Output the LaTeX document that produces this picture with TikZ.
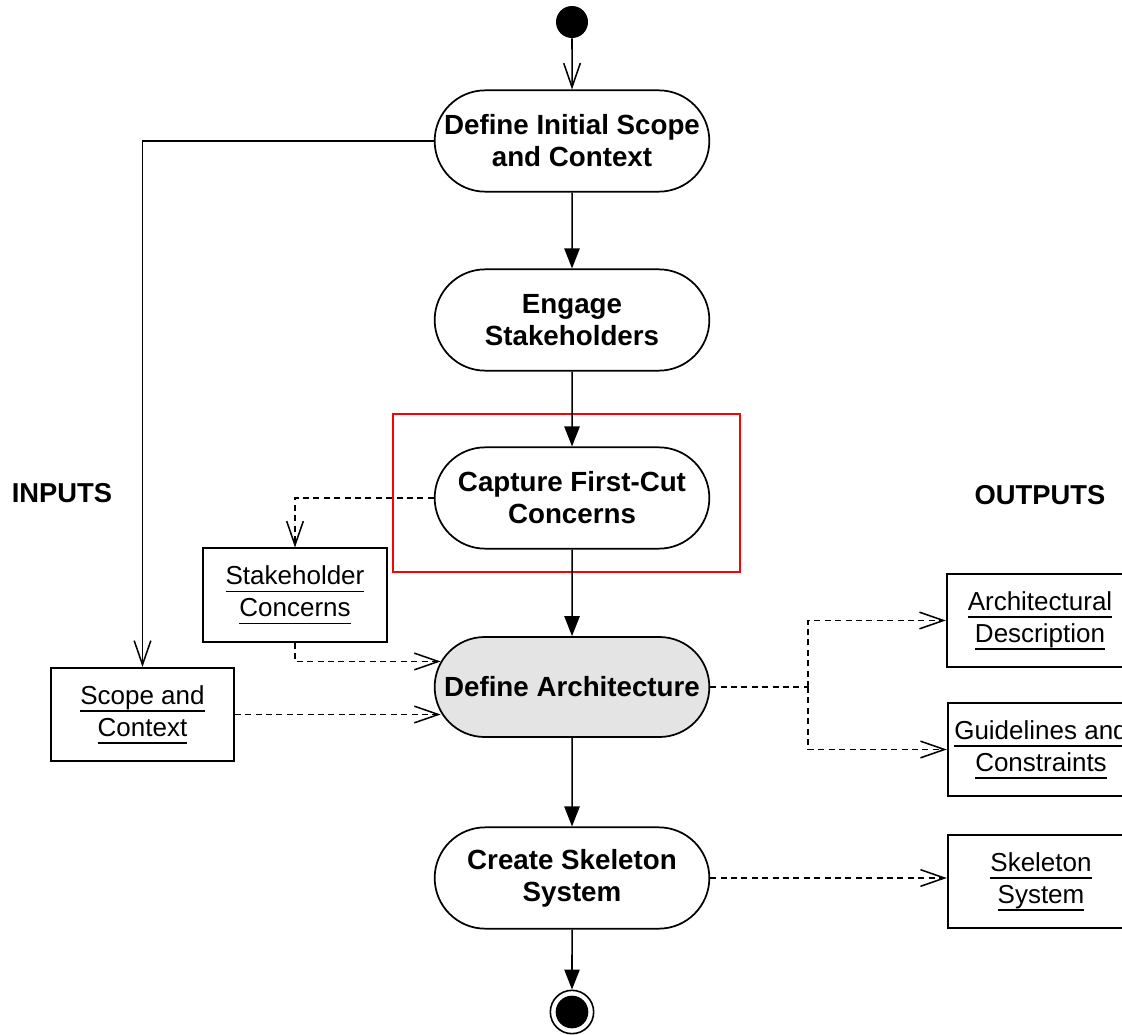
\documentclass[tikz,border=0pt]{standalone}
\usepackage{fontspec}
\setmainfont{Liberation Sans}
\usetikzlibrary{arrows.meta,shapes.misc}
\definecolor{actgrey}{RGB}{228,228,228}
\newcommand\ulx[1]{\sbox0{#1}\rlap{\rule[-5.5pt]{\wd0}{0.9pt}}\usebox0}
\begin{document}
\begin{tikzpicture}[x=0.75pt,y=-0.75pt,
  act/.style={rounded rectangle, draw, line width=1.3pt, minimum width=210pt, minimum height=76pt, align=center, font=\fontsize{20.8}{24}\selectfont\bfseries, inner sep=2pt},
  obj/.style={rectangle, draw, line width=1.3pt, minimum width=138pt, minimum height=70pt, align=center, font=\fontsize{19.5}{24}\selectfont, inner sep=2pt},
  flow/.style={line width=1.15pt, -{Triangle[length=15pt,width=11.5pt]}},
  openarr/.style={line width=1.15pt, -{Straight Barb[length=18pt,width=12.5pt]}},
  dline/.style={line width=1.15pt, dash pattern=on 4.5pt off 3.3pt},
  dflow/.style={openarr, dash pattern=on 4.5pt off 3.3pt},
  lbl/.style={font=\fontsize{20.5}{24}\selectfont\bfseries}
]
\useasboundingbox (0,0) rectangle (1122,1035);
\clip (0,0) rectangle (1122,1035);

% activity nodes
\node[circle, fill=black, minimum size=24pt, inner sep=0pt] (init) at (572,22) {};
\node[act] (n1) at (572,141) {Define Initial Scope\\and Context};
\node[act] (n2) at (572,320) {Engage\\Stakeholders};
\node[act] (n3) at (572,498) {Capture First-Cut\\Concerns};
\node[act, fill=actgrey, minimum height=75pt] (n4) at (572,687) {Define Architecture};
\node[act] (n5) at (572,878) {Create Skeleton\\System};
\node[circle, draw, line width=1.2pt, minimum size=32.5pt, inner sep=0pt] (fin) at (572,1012) {};
\node[circle, fill=black, minimum size=24.5pt, inner sep=0pt] (finin) at (572,1012) {};

% highlight
\draw[red, line width=1.1pt] (393,414) rectangle (740,572);

% object nodes
\node[obj, minimum width=137pt] (scope) at (142.5,714.5) {\ulx{Scope and}\\\ulx{Context}};
\node[obj] (sk) at (295,595) {\ulx{Stakeholder}\\\ulx{Concerns}};
\node[obj, minimum width=140pt] (arch) at (1040,620.5) {\ulx{Architectural}\\\ulx{Description}};
\node[obj, minimum width=140pt] (guide) at (1041,749.5) {\ulx{Guidelines and}\\\ulx{Constraints}};
\node[obj, minimum width=140pt] (skel) at (1041,881.5) {\ulx{Skeleton}\\\ulx{System}};

% labels
\node[lbl] (inputs) at (62,493) {INPUTS};
\node[lbl] (outputs) at (1040,495) {OUTPUTS};

% control flow
\draw[openarr] (init) -- (n1);
\draw[flow] (n1) -- (n2);
\draw[flow] (n2) -- (n3);
\draw[flow] (n3) -- (n4);
\draw[flow] (n4) -- (n5);
\draw[flow] (n5) -- (fin);

% inputs
\draw[openarr] (n1.west) -| (scope.north);
\draw[dflow] (n3.west) -| (sk.north);
\draw[dflow] (sk.south) |- (n4.169);
\draw[dflow] (scope.east) -- (scope.east -| n4.191);

% outputs
\coordinate (br) at (808,687);
\draw[dline] (n4.east) -- (br);
\draw[dflow] (br) |- (arch.west);
\draw[dflow] (br) |- (guide.west);
\draw[dflow] (n5.east) -- (n5.east -| skel.west);
\end{tikzpicture}
\end{document}
